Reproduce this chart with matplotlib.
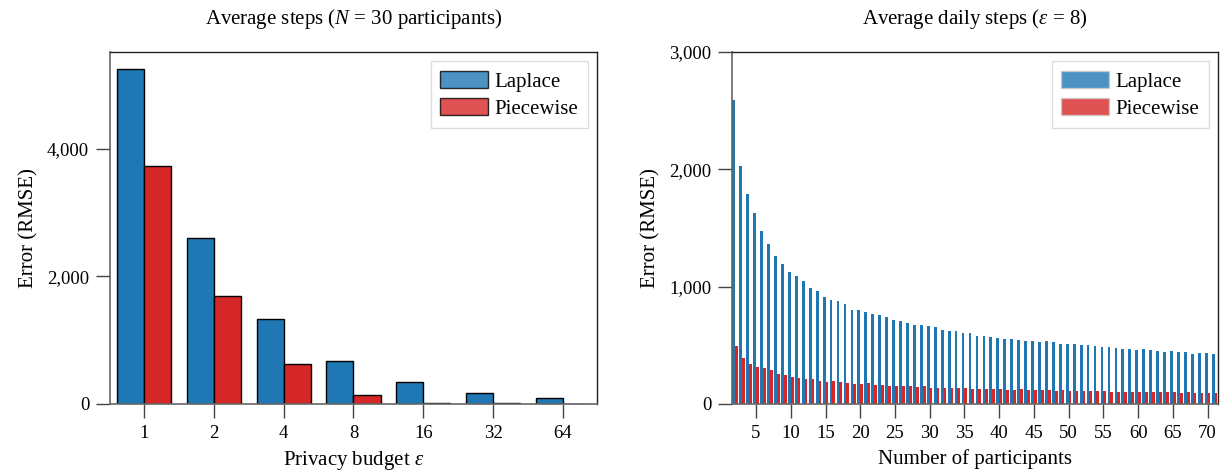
import numpy as np
import matplotlib
matplotlib.use('Agg')
import matplotlib.pyplot as plt
from matplotlib.patches import Patch
from matplotlib.ticker import FuncFormatter

plt.rcParams['font.family'] = ['Liberation Serif', 'DejaVu Serif']
plt.rcParams['mathtext.fontset'] = 'custom'
plt.rcParams['mathtext.rm'] = 'Liberation Serif'
plt.rcParams['mathtext.it'] = 'Liberation Serif:italic'

# left chart: error vs privacy budget (N = 30)
eps_labels = ['1', '2', '4', '8', '16', '32', '64']
laplace_eps = [5260, 2610, 1330, 670, 340, 170, 88]
piecewise_eps = [3740, 1700, 625, 140, 12, 8, 6]

# right chart: error vs number of participants (eps = 8)
participants = list(range(2, 72))
laplace_n = [2591, 2026, 1787, 1624, 1478, 1367, 1264, 1196, 1127, 1093,
             1050, 990, 965, 913, 888, 879, 853, 802, 802, 785,
             768, 759, 742, 716, 708, 691, 674, 674, 665, 656,
             631, 622, 622, 605, 605, 579, 579, 571, 562, 554,
             554, 545, 537, 537, 528, 537, 528, 511, 511, 511,
             502, 502, 494, 485, 485, 477, 468, 468, 459, 468,
             459, 451, 442, 451, 442, 442, 425, 434, 434, 425]
piecewise_n = [494, 391, 340, 314, 305, 288, 254, 245, 228, 220,
               211, 211, 194, 186, 194, 186, 177, 168, 168, 177,
               160, 160, 151, 151, 151, 151, 143, 151, 134, 134,
               134, 134, 134, 136, 126, 126, 126, 126, 126, 117,
               117, 126, 117, 117, 117, 117, 108, 117, 108, 108,
               108, 108, 108, 108, 100, 100, 100, 100, 100, 100,
               100, 100, 100, 100, 91, 100, 91, 91, 91, 91]

BLUE = '#1f77b4'
RED = '#d62728'

thousands = FuncFormatter(lambda v, p: f'{int(v):,}')


def style_axes(ax):
    for s in ['left', 'bottom']:
        ax.spines[s].set_color('#666666')
        ax.spines[s].set_linewidth(1.2)
    for s in ['top', 'right']:
        ax.spines[s].set_color('#222222')
        ax.spines[s].set_linewidth(1.0)
    ax.tick_params(axis='both', direction='out', length=10, width=1.0,
                   color='#444444', labelsize=13.5, pad=5)
    ax.yaxis.set_major_formatter(thousands)


def add_legend(ax, edge):
    handles = [Patch(facecolor=BLUE, alpha=0.8, edgecolor=edge, label='Laplace'),
               Patch(facecolor=RED, alpha=0.8, edgecolor=edge, label='Piecewise')]
    leg = ax.legend(handles=handles, loc='upper right', fontsize=15,
                    fancybox=False, edgecolor='#dddddd', framealpha=1,
                    handlelength=2.3, handleheight=0.9, handletextpad=0.3,
                    borderpad=0.45, labelspacing=0.3, borderaxespad=0.45)
    leg.get_frame().set_linewidth(1.0)


fig = plt.figure(figsize=(12.25, 4.73), dpi=100)
ax1 = fig.add_axes([0.0898, 0.146, 0.3975, 0.744])
ax2 = fig.add_axes([0.5976, 0.146, 0.3967, 0.744])

# left
x = np.arange(len(eps_labels))
w = 0.39
ax1.bar(x - w / 2, laplace_eps, w, color=BLUE, edgecolor='black', linewidth=1.0)
ax1.bar(x + w / 2, piecewise_eps, w, color=RED, edgecolor='black', linewidth=1.0)
ax1.set_xticks(x)
ax1.set_xticklabels(eps_labels)
ax1.set_xlim(-0.49, 6.49)
ax1.set_ylim(0, 5520)
ax1.set_yticks([0, 2000, 4000])
ax1.set_xlabel(r'Privacy budget $\varepsilon$', fontsize=15, labelpad=5)
ax1.set_ylabel('Error (RMSE)', fontsize=15, labelpad=6)
ax1.set_title(r'Average steps ($N$ = 30 participants)', fontsize=15, pad=20)
style_axes(ax1)
add_legend(ax1, 'black')

# right
n = np.array(participants)
w2 = 0.4
ax2.bar(n - w2 / 2, laplace_n, w2, color=BLUE, linewidth=0)
ax2.bar(n + w2 / 2, piecewise_n, w2, color=RED, linewidth=0)
ax2.set_xlim(1.55, 71.5)
ax2.set_ylim(0, 3000)
ax2.set_xticks(range(5, 71, 5))
ax2.set_yticks([0, 1000, 2000, 3000])
ax2.set_xlabel('Number of participants', fontsize=15, labelpad=5)
ax2.set_ylabel('Error (RMSE)', fontsize=15, labelpad=6)
ax2.set_title(r'Average daily steps ($\varepsilon$ = 8)', fontsize=15, pad=20)
style_axes(ax2)
add_legend(ax2, '#cccccc')

fig.savefig('out.png', dpi=100)
